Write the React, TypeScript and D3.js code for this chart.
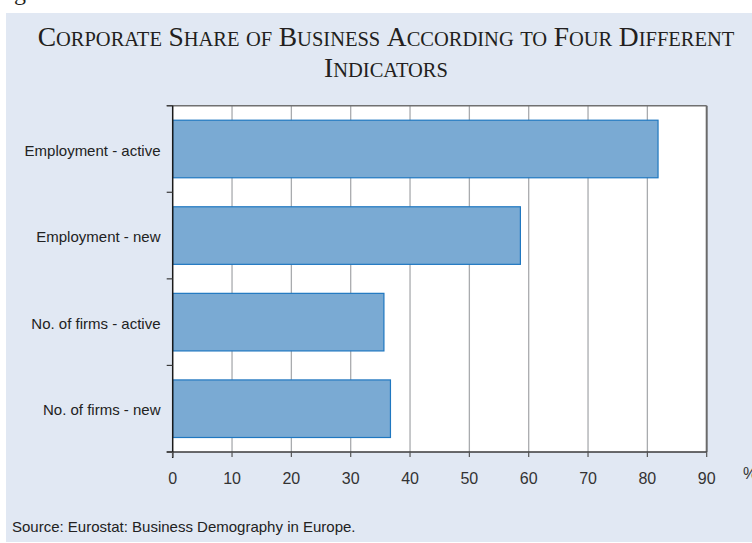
import React from "react";
import * as d3 from "d3";

const categories = ["Employment - active", "Employment - new", "No. of firms - active", "No. of firms - new"];
const values = [81.8, 58.6, 35.6, 36.7];
const xTicks = [0, 10, 20, 30, 40, 50, 60, 70, 80, 90];
const titleLines = [
  ["Corporate", "Share", "of", "Business", "According", "to", "Four", "Different"],
  ["Indicators"],
];
const smallWords = new Set(["of", "to"]);

const W = 752, H = 543;
const plot = { left: 172.7, right: 706.7, top: 105.7, bottom: 452 };
const SANS = "'Liberation Sans', Arial, sans-serif";

function TitleLine({ words, y }: { words: string[]; y: number }) {
  const parts: React.ReactNode[] = [];
  words.forEach((w, i) => {
    const lead = smallWords.has(w) ? "" : w[0];
    const rest = smallWords.has(w) ? w : w.slice(1);
    if (i > 0) parts.push(<tspan key={"s" + i} fontSize={26}>{" "}</tspan>);
    if (lead) parts.push(<tspan key={"l" + i} fontSize={27.5}>{lead.toUpperCase()}</tspan>);
    parts.push(<tspan key={"r" + i} fontSize={20.5}>{rest.toUpperCase()}</tspan>);
  });
  return (
    <text x={386} y={y} textAnchor="middle" fontFamily="'Liberation Serif', serif" fill="#231f20">
      {parts}
    </text>
  );
}

export default function App() {
  const x = d3.scaleLinear().domain([0, 90]).range([plot.left, plot.right]);
  const y = d3.scaleBand<string>().domain(categories).range([plot.top, plot.bottom]).paddingInner(0.335).paddingOuter(0.1675);
  const step = y.step();
  const boundaries = d3.range(categories.length + 1).map((i) => plot.top + i * step);

  return (
    <svg width={W} height={H} style={{ position: "absolute", left: 0, top: 0 }}>
      <rect x={0} y={0} width={W} height={H} fill="#ffffff" />
      <text x={-6} y={0} fontFamily="'Liberation Serif', serif" fontSize={24} fill="#231f20">Figure 1</text>
      <rect x={6} y={13} width={W - 6} height={529} fill="#e1e8f3" />
      {titleLines.map((ln, i) => (
        <TitleLine key={i} words={ln} y={46 + i * 31} />
      ))}
      <rect x={plot.left} y={plot.top} width={plot.right - plot.left} height={plot.bottom - plot.top} fill="#ffffff" />
      {xTicks.slice(1, -1).map((t) => (
        <line key={t} x1={x(t)} x2={x(t)} y1={plot.top} y2={plot.bottom} stroke="#a9abae" strokeWidth={1.3} />
      ))}
      {categories.map((c, i) => (
        <rect key={c} x={x(0)} y={y(c)!} width={x(values[i]) - x(0)} height={y.bandwidth()}
          fill="#7aaad3" stroke="#1f77c0" strokeWidth={1.2} />
      ))}
      <line x1={plot.left - 6} x2={plot.right} y1={plot.top} y2={plot.top} stroke="#707070" strokeWidth={1.5} />
      <line x1={plot.right} x2={plot.right} y1={plot.top} y2={plot.bottom} stroke="#6a6a6a" strokeWidth={2} />
      <line x1={plot.left - 6} x2={plot.right} y1={plot.bottom} y2={plot.bottom} stroke="#3a3a3a" strokeWidth={1.5} />
      <line x1={plot.left} x2={plot.left} y1={plot.top} y2={plot.bottom + 6} stroke="#1a1a1a" strokeWidth={1.5} />
      {boundaries.map((b, i) => (
        <line key={i} x1={plot.left - 6} x2={plot.left} y1={b} y2={b} stroke="#3a3a3a" strokeWidth={1.2} />
      ))}
      {xTicks.map((t) => (
        <g key={t}>
          <line x1={x(t)} x2={x(t)} y1={plot.bottom} y2={plot.bottom + 5} stroke="#555" strokeWidth={1.2} />
          <text x={x(t)} y={484} textAnchor="middle" fontFamily={SANS} fontSize={16} fill="#333">{t}</text>
        </g>
      ))}
      <text x={743} y={479} fontFamily={SANS} fontSize={16} fill="#333">%</text>
      {categories.map((c) => (
        <text key={c} x={160.5} y={y(c)! + y.bandwidth() / 2} dy="0.45em" textAnchor="end"
          fontFamily={SANS} fontSize={15} fill="#222">{c}</text>
      ))}
      <text x={12} y={532} fontFamily={SANS} fontSize={15} fill="#222">
        Source: Eurostat: Business Demography in Europe.
      </text>
    </svg>
  );
}
